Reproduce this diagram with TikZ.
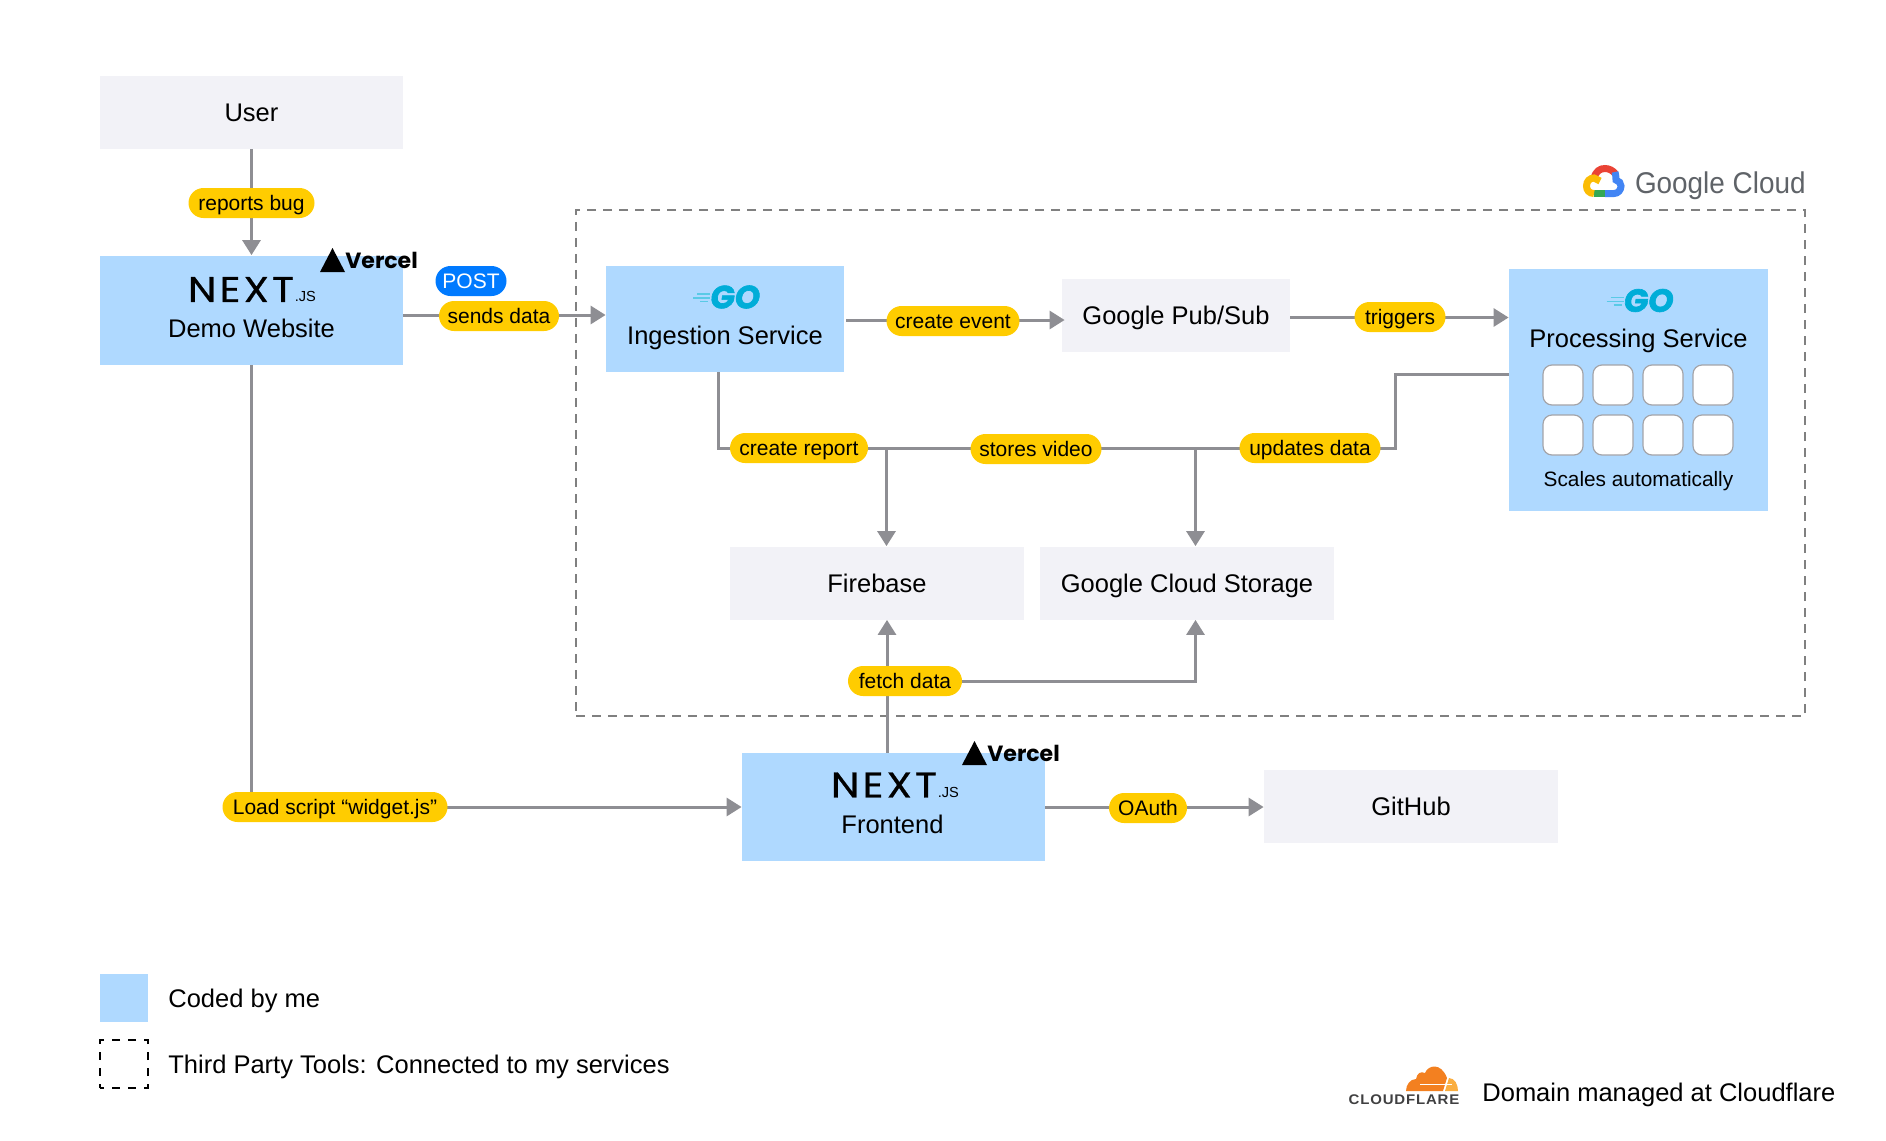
\documentclass[tikz,border=0pt]{standalone}
\usepackage{fontspec}
\setmainfont{Liberation Sans}
\newfontfamily\nextfont[LetterSpace=9,FakeBold=0.7,FakeStretch=1.14]{Poppins}
\newfontfamily\gofont[FakeSlant=0.14,FakeBold=2]{Poppins}
\newfontfamily\vercelfont{Poppins}
\newfontfamily\gcloudfont[FakeStretch=0.93]{Liberation Sans}
\newfontfamily\flarefont[LetterSpace=6,FakeStretch=1.07]{Liberation Sans}
\usetikzlibrary{shapes,arrows.meta,positioning}

\definecolor{edgegray}{HTML}{8E8E93}
\definecolor{framegray}{HTML}{808080}
\definecolor{softgray}{HTML}{F2F2F7}
\definecolor{softblue}{HTML}{AFD9FF}
\definecolor{pillyellow}{HTML}{FFCC00}
\definecolor{postblue}{HTML}{007AFF}
\definecolor{gocyan}{HTML}{00ADD8}
\definecolor{gcloudgray}{HTML}{5F6368}
\definecolor{chipline}{HTML}{A4A4A8}
\definecolor{gcred}{HTML}{EA4335}
\definecolor{gcblue}{HTML}{4285F4}
\definecolor{gcyellow}{HTML}{FBBC05}
\definecolor{gcgreen}{HTML}{34A853}
\definecolor{flaredark}{HTML}{F38020}
\definecolor{flarelight}{HTML}{FAAE40}
\definecolor{flareword}{HTML}{404041}

\tikzset{
    golang/.pic = {
        \node [text = gocyan, inner sep = 0pt, font = \fontsize{16}{16}\selectfont\gofont\bfseries] (word) at (9, 0) {GO};
        \draw [gocyan!65, line width = 0.7pt] (-28, -3) -- (-15, -3);
        \draw [gocyan!65, line width = 0.7pt] (-32, 1) -- (-15, 1);
        \draw [gocyan!65, line width = 0.7pt] (-25, 4.5) -- (-17, 4.5);
    },
    vercelmark/.pic = {
        \fill [black] (0, 0) -- (25, 0) -- (12.5, -24) -- cycle;
        \node [anchor = west, inner sep = 0pt, font = \fontsize{11}{12}\selectfont\vercelfont\bfseries] (word) at (25, -12) {Vercel};
    }
}

\begin{document}
\begin{tikzpicture}[x = 0.5pt, y = -0.5pt, node distance = 155pt]

    % Define block styles
    \tikzstyle{box} = [rectangle, inner sep = 0pt, text = black, text height = 11pt, text depth = 2pt,
        font = \fontsize{12.75}{15}\selectfont]
    \tikzstyle{plain} = [box, fill = softgray, minimum height = 36.5pt]
    \tikzstyle{coded} = [box, fill = softblue]
    \tikzstyle{caption} = [inner sep = 0pt, text height = 11pt, text depth = 2pt,
        font = \fontsize{12.75}{15}\selectfont]
    \tikzstyle{frame} = [rectangle, draw = framegray, line width = 0.9pt,
        dash pattern = on 4.3pt off 3.7pt, inner sep = 0pt]
    \tikzstyle{chip} = [rectangle, draw = chipline, fill = white, line width = 0.6pt,
        rounded corners = 4.5pt, minimum size = 20pt, inner sep = 0pt]
    \tikzstyle{pill} = [rectangle, fill = pillyellow, rounded corners = 7.5pt, inner sep = 0pt,
        minimum height = 15pt, text height = 9.5pt, text depth = 2.3pt,
        font = \fontsize{10.5}{12}\selectfont]
    \tikzstyle{wire} = [draw = edgegray, line width = 1.5pt]
    \tikzstyle{line} = [wire, -{Triangle[length = 7.5pt, width = 9pt]}]
    \tikzstyle{nextword} = [inner sep = 0pt, font = \fontsize{17.8}{18}\selectfont\nextfont]
    \tikzstyle{nextsmall} = [inner sep = 0pt, font = \fontsize{7.3}{8}\selectfont]

    \useasboundingbox (0, 0) rectangle (1886, 1141);

    % Google Cloud frame and mark
    \node [frame, minimum width = 614.5pt, minimum height = 253pt] (gcloud) at (1190.5, 463) {};
    \draw [gcred, line width = 3.5pt] (1594, 178) .. controls (1596, 171) and (1600, 168.5) .. (1605, 168.5)
        .. controls (1609, 168.5) and (1613, 170.5) .. (1615.5, 174);
    \draw [gcblue, line width = 3.5pt] (1615, 172) .. controls (1616, 176) and (1616, 178) .. (1616, 180)
        .. controls (1619, 181) and (1621, 183) .. (1621, 186)
        .. controls (1621, 190) and (1618, 193.5) .. (1614, 193.5) -- (1605, 193.5);
    \draw [gcgreen, line width = 3.5pt] (1605, 193.5) -- (1594, 193.5);
    \draw [gcyellow, line width = 3.5pt] (1594, 193.5) .. controls (1589, 193.5) and (1586.5, 190) .. (1586.5, 186)
        .. controls (1586.5, 181) and (1590, 178) .. (1594, 178) -- (1600, 181);
    \node [anchor = east, inner sep = 0pt, text = gcloudgray, font = \fontsize{15}{16}\selectfont\gcloudfont] (gcloudname) at (1806, 186) {Google Cloud};

    % Place nodes
    \node [plain, minimum width = 151.5pt] (user) at (251.5, 112.5) {User};
    \node [coded, minimum width = 151.5pt, minimum height = 54.5pt] (demo) at (251.5, 310) {};
    \node [coded, minimum width = 119pt, minimum height = 53pt] (ingest) at (725, 319) {};
    \node [plain, minimum width = 114pt] (pubsub) at (1176, 315) {Google Pub/Sub};
    \node [coded, minimum width = 129.5pt, minimum height = 121pt] (proc) at (1638.5, 390) {};
    \node [plain, minimum width = 147pt] (firebase) at (877, 583) {Firebase};
    \node [plain, minimum width = 147pt, right of = firebase] (gcs) {Google Cloud Storage};
    \node [coded, minimum width = 151.5pt, minimum height = 54pt] (frontend) at (893.5, 807) {};
    \node [plain, minimum width = 147pt] (github) at (1411, 806) {GitHub};

    % Text and logos inside the blue blocks
    \node [nextword] (demonext) at (241, 289.5) {NEXT};
    \node [nextsmall, anchor = base west] (demojs) at (demonext.base east) {.JS};
    \node [caption] (demotext) at (251.5, 328) {Demo Website};
    \pic (demovercel) at (320, 272) {vercelmark};

    \pic (ingestgo) at (725, 297) {golang};
    \node [caption] (ingesttext) at (725, 335) {Ingestion Service};

    \pic (procgo) at (1638.5, 300.5) {golang};
    \node [caption] (proctext) at (1638.5, 338.5) {Processing Service};
    \foreach \row in {0, 1} {
        \foreach \col in {0, 1, 2, 3} {
            \node [chip] (chip\row\col) at (1563 + 50 * \col, 385 + 50 * \row) {};
        }
    }
    \node [caption, font = \fontsize{10.4}{12}\selectfont] (scaletext) at (1638.5, 477) {Scales automatically};

    \node [nextword] (frontnext) at (884, 785) {NEXT};
    \node [nextsmall, anchor = base west] (frontjs) at (frontnext.base east) {.JS};
    \node [caption] (fronttext) at (892.5, 824) {Frontend};
    \pic (frontvercel) at (962, 765) {vercelmark};

    % Rails for the edges that do not run through a centre
    \coordinate (sendsrail) at (500, 315);
    \coordinate (eventrail) at (900, 320);
    \coordinate (triggerrail) at (1400, 317.5);
    \coordinate (busstart) at (718.5, 448);
    \coordinate (busend) at (1395.5, 448);
    \coordinate (procin) at (1450, 374);
    \coordinate (tapfire) at (886.5, 448);
    \coordinate (tapgcs) at (1195.5, 448);
    \coordinate (fetchup) at (887, 681);

    % Draw edges
    \path [line] (user) -- (demo);
    \path [line] (demo.east |- sendsrail) -- (ingest.west |- sendsrail);
    \path [line] ([xshift = 1pt]ingest.east |- eventrail) -- ([xshift = 1.5pt]pubsub.west |- eventrail);
    \path [line] (pubsub.east |- triggerrail) -- (proc.west |- triggerrail);
    \path [wire] (ingest.south -| busstart) |- (busend) |- (proc.west |- procin);
    \path [line] (tapfire) -- (firebase.north -| tapfire);
    \path [line] (tapgcs) -- (gcs.north -| tapgcs);
    \path [line] (frontend.north -| fetchup) -- (firebase.south -| fetchup);
    \path [line] (fetchup) -| (gcs.south -| tapgcs);
    \path [line] (demo) |- (frontend);
    \path [line] (frontend) -- (frontend -| github.west);

    % Edge labels
    \node [pill, minimum width = 63pt] (reports) at (251.5, 203) {reports bug};
    \node [pill, minimum width = 35.5pt, fill = postblue, text = white] (post) at (471, 281) {POST};
    \node [pill, minimum width = 60pt] (sends) at (499, 316) {sends data};
    \node [pill, minimum width = 66.5pt] (event) at (953, 321) {create event};
    \node [pill, minimum width = 45.5pt] (triggers) at (1400, 317) {triggers};
    \node [pill, minimum width = 69pt] (report) at (799, 448) {create report};
    \node [pill, minimum width = 65.5pt] (video) at (1036, 449) {stores video};
    \node [pill, minimum width = 70.5pt] (updates) at (1310, 448) {updates data};
    \node [pill, minimum width = 57pt] (fetch) at (905, 681) {fetch data};
    \node [pill, minimum width = 112.5pt] (script) at (335, 807) {Load script “widget.js”};
    \node [pill, minimum width = 39pt] (oauth) at (1148, 808) {OAuth};

    % Legend
    \node [coded, minimum size = 24pt] (legendcoded) at (124, 998) {};
    \node [caption, anchor = west] (legendcodedtext) at (168, 998) {Coded by me};
    \node [rectangle, draw, line width = 0.6pt, dash pattern = on 4pt off 4pt, dash phase = 2pt,
        minimum size = 24pt, inner sep = 0pt] (legendtools) at (124, 1064) {};
    \node [caption, anchor = west] (legendtoolstext) at (168, 1064) {Third Party Tools: Connected to my services};

    % Cloudflare mark
    \fill [flaredark] (1406, 1091) .. controls (1406, 1085) and (1410, 1079) .. (1416, 1079)
        .. controls (1417, 1073) and (1421, 1071) .. (1425, 1073)
        .. controls (1428, 1065) and (1441, 1062) .. (1447, 1078) -- (1443, 1091) -- cycle;
    \fill [flarelight] (1445, 1091) -- (1449, 1078) .. controls (1455, 1078) and (1458, 1085) .. (1458, 1091) -- cycle;
    \draw [white, line width = 0.5pt] (1420, 1084) -- (1452, 1084);
    \node [inner sep = 0pt, text = flareword, font = \fontsize{7}{7}\selectfont\flarefont\bfseries] (flaretitle) at (1404, 1100) {CLOUDFLARE};
    \node [caption, anchor = west] (flaretext) at (1482, 1092) {Domain managed at Cloudflare};

\end{tikzpicture}
\end{document}
